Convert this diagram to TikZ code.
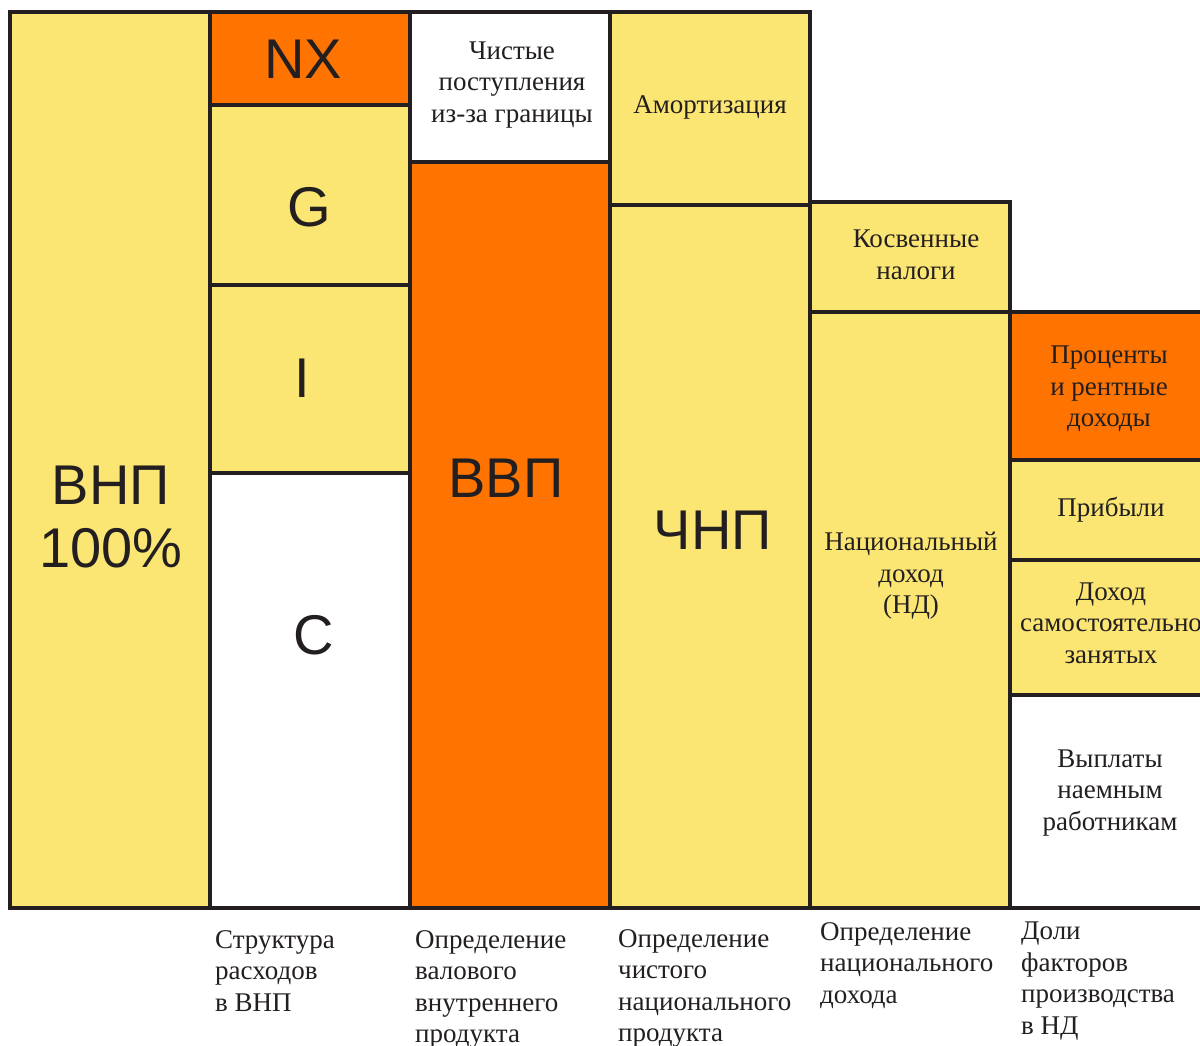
\documentclass[tikz,border=0pt]{standalone}
\usepackage{fontspec}
\setmainfont{Liberation Serif}
\newfontfamily\bigsans{Liberation Sans}
\definecolor{yel}{RGB}{251,230,115}
\definecolor{org}{RGB}{255,115,0}
\definecolor{ink}{RGB}{35,31,32}
\begin{document}
\begin{tikzpicture}[x=1pt,y=-1pt,
  box/.style={draw=ink, line width=4pt},
  lbl/.style={font=\fontsize{27}{31.5}\selectfont, align=center, text=ink, inner sep=0pt},
  big/.style={font=\bigsans\fontsize{56}{63}\selectfont, align=center, text=ink, inner sep=0pt},
  capt/.style={font=\fontsize{27}{31.5}\selectfont, align=left, text=ink, anchor=north west, inner sep=0pt}]
\useasboundingbox (0,0) rectangle (1200,1045);
\clip (0,0) rectangle (1200,1045);
% column 1
\path[box, fill=yel] (10,12) rectangle (210,908);
% column 2
\path[box, fill=org] (210,12) rectangle (410,105);
\path[box, fill=yel] (210,105) rectangle (410,285);
\path[box, fill=yel] (210,285) rectangle (410,473);
\path[box, fill=white] (210,473) rectangle (410,908);
% column 3
\path[box, fill=white] (410,12) rectangle (610,162);
\path[box, fill=org] (410,162) rectangle (610,908);
% column 4
\path[box, fill=yel] (610,12) rectangle (810,205);
\path[box, fill=yel] (610,205) rectangle (810,908);
% column 5
\path[box, fill=yel] (810,202) rectangle (1010,312);
\path[box, fill=yel] (810,312) rectangle (1010,908);
% column 6
\path[box, fill=org] (1010,312) rectangle (1220,460);
\path[box, fill=yel] (1010,460) rectangle (1220,560);
\path[box, fill=yel] (1010,560) rectangle (1220,695);
\path[box, fill=white] (1010,695) rectangle (1220,908);
% big labels
\node[big] (vnp) at (111,517) {ВНП\\100\%};
\node[big] (nx) at (303,59) {NX};
\node[big] (g) at (309,207) {G};
\node[big] (i) at (302,378) {I};
\node[big] (c) at (314,635) {C};
\node[big] (vvp) at (506,478) {ВВП};
\node[big] (chnp) at (713,530) {ЧНП};
% serif labels
\node[lbl] (net) at (512,85) {Чистые\\поступления\\из-за границы};
\node[lbl] (amort) at (710,107) {Амортизация};
\node[lbl] (tax) at (916,255) {Косвенные\\налоги};
\node[lbl] (nd) at (911,576) {Национальный\\доход\\(НД)};
\node[lbl] (rent) at (1109,389) {Проценты\\и рентные\\доходы};
\node[lbl] (profit) at (1111,510) {Прибыли};
\node[lbl] (self) at (1111,623) {Доход\\самостоятельно\\занятых};
\node[lbl] (wage) at (1110,793) {Выплаты\\наемным\\работникам};
% captions
\node[capt] (c2) at (215,930) {Структура\\расходов\\в ВНП};
\node[capt] (c3) at (415,930) {Определение\\валового\\внутреннего\\продукта};
\node[capt] (c4) at (618,929) {Определение\\чистого\\национального\\продукта};
\node[capt] (c5) at (820,922) {Определение\\национального\\дохода};
\node[capt] (c6) at (1021,922) {Доли\\факторов\\производства\\в НД};
\end{tikzpicture}
\end{document}
